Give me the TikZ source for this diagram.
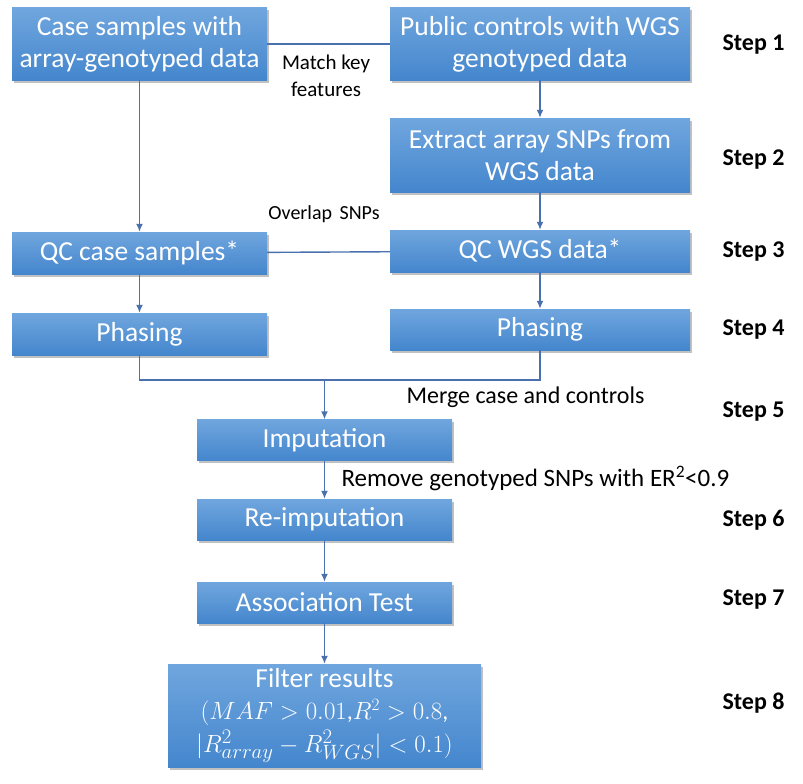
\documentclass[tikz,border=0pt]{standalone}
\usepackage{fontspec}
\setmainfont{Carlito}
\usepackage{tikz}
\usetikzlibrary{positioning, calc, arrows.meta, shadows}
\definecolor{boxtop}{RGB}{112,166,222}
\definecolor{boxbottom}{RGB}{68,134,205}
\definecolor{linkblue}{RGB}{74,112,174}

\begin{document}
\begin{tikzpicture}[
        x=1pt, y=-1pt,
        box/.style={
            rectangle,
            top color=boxtop,
            bottom color=boxbottom,
            draw=none,
            text=white,
            align=center,
            inner sep=0pt,
            minimum width=255pt,
            font=\fontsize{27.5}{32}\selectfont,
            drop shadow={shadow xshift=1.5pt, shadow yshift=-2.5pt, opacity=0.35, fill=black!70}
        },
        wide/.style={minimum width=300pt},
        arrow/.style={
            -{Latex[length=8pt,width=7pt]},
            line width=1.4pt,
            linkblue
        },
        link/.style={line width=1.4pt, linkblue},
        note/.style={font=\fontsize{21}{27}\selectfont, align=center},
        steplabel/.style={font=\fontsize{24}{28}\selectfont\bfseries, anchor=west}
    ]
        \useasboundingbox (0,0) rectangle (803,784);

        % left column
        \node [box, minimum height=72pt] (case) at (139.5,44) {Case samples with\\array-genotyped data};
        \node [box, minimum height=42pt] (qccase) at (139.5,253) {QC case samples*};
        \node [box, minimum height=42pt] (phaseA) at (139.5,334) {Phasing};

        % right column
        \node [box, wide, minimum height=72pt] (public) at (540,44) {Public controls with WGS\\genotyped data};
        \node [box, wide, minimum height=74pt] (extract) at (540,155) {Extract array SNPs from\\WGS data};
        \node [box, wide, minimum height=42pt] (qcwgs) at (540,251) {QC WGS data*};
        \node [box, wide, minimum height=41pt] (phaseB) at (540,329.5) {Phasing};

        % merged column
        \node [box, minimum height=41pt] (imput) at (324.5,440) {Imputation};
        \node [box, minimum height=41pt] (reimput) at (324.5,519.5) {Re-imputation};
        \node [box, minimum height=41pt] (assoc) at (324.5,602.5) {Association Test};
        \node [box, minimum width=313pt, minimum height=103pt] (filter) at (324.5,715.5)
            {Filter results\\\fontsize{24}{30}\selectfont$(MAF > 0.01$,$R^2 > 0.8$,\\[1pt]$|R^2_{array} - R^2_{WGS}| < 0.1)$};

        % notes
        \node [note] (match) at (326,76) {Match key\\features};
        \node [note, font=\fontsize{20}{24}\selectfont] (overlap) at (324,214) {Overlap\hspace{3pt} SNPs};
        \node [note, font=\fontsize{24}{28}\selectfont, anchor=west] (merge) at (403,397) {Merge case and controls};
        \node [note, font=\fontsize{25}{29}\selectfont, anchor=west] (remove) at (338,478) {Remove genotyped SNPs with ER\textsuperscript{2}<0.9};

        % steps
        \node [steplabel] (s1) at (719,45) {Step 1};
        \node [steplabel] (s2) at (719,160) {Step 2};
        \node [steplabel] (s3) at (719,252) {Step 3};
        \node [steplabel] (s4) at (719,330) {Step 4};
        \node [steplabel] (s5) at (719,412) {Step 5};
        \node [steplabel] (s6) at (719,520) {Step 6};
        \node [steplabel] (s7) at (719,600) {Step 7};
        \node [steplabel] (s8) at (719,703) {Step 8};

        % connectors
        \coordinate (joinA) at (139.5,380);
        \coordinate (joinB) at (540,380);
        \coordinate (joinC) at (324.5,380);

        \draw [link] (case) -- (public);
        \draw [link] (qccase) -- (qcwgs);
        \draw [arrow] (case) -- (qccase);
        \draw [arrow] (qccase) -- (phaseA);
        \draw [arrow] (public) -- (extract);
        \draw [arrow] (extract) -- (qcwgs);
        \draw [arrow] (qcwgs) -- (phaseB);
        \draw [link] (phaseA.south) -- (joinA) -- (joinB) -- (phaseB.south);
        \draw [arrow] (joinC) -- (imput);
        \draw [arrow] (imput) -- (reimput);
        \draw [arrow] (reimput) -- (assoc);
        \draw [arrow] (assoc) -- (filter);
\end{tikzpicture}
\end{document}
